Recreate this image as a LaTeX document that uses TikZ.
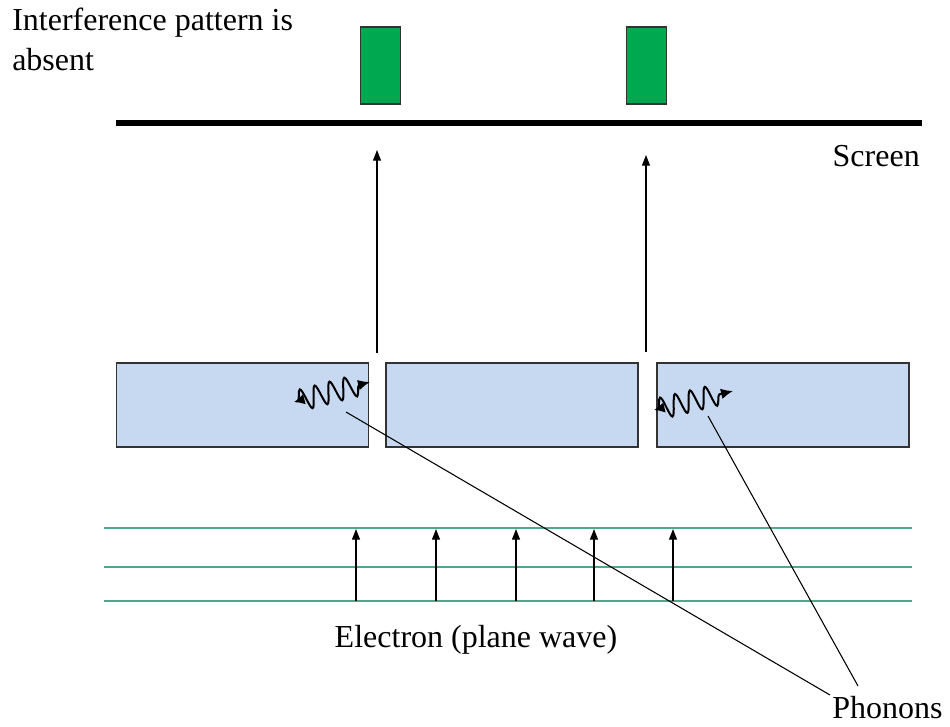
\documentclass[tikz,border=0pt]{standalone}
\usepackage{fontspec}
\setmainfont{Liberation Serif}
\usetikzlibrary{arrows.meta,decorations.pathmorphing}
\definecolor{slitblue}{RGB}{198,217,240}
\definecolor{spotgreen}{RGB}{0,168,80}
\definecolor{waveline}{RGB}{80,168,140}
\tikzset{
  px/.style={x=0.75pt,y=-0.75pt},
  lbl/.style={font=\fontsize{24}{30}\selectfont, inner sep=0pt},
  slitbox/.style={draw=black!80, line width=0.9pt, fill=slitblue, minimum width=189pt, minimum height=63pt, inner sep=0pt},
  spot/.style={draw=black!80, line width=0.9pt, fill=spotgreen, minimum width=30pt, minimum height=57.75pt, inner sep=0pt},
  ray/.style={line width=0.9pt, -{Triangle[length=8pt,width=6pt]}},
  front/.style={draw=waveline, line width=1.2pt},
  phonon/.style={line width=1.5pt, {Latex[length=8pt,width=8pt]}-{Latex[length=9pt,width=8pt]},
    decorate, decoration={snake, segment length=11.5pt, amplitude=8pt, pre length=3pt, post length=5pt}},
  pointer/.style={line width=0.8pt}
}
\begin{document}
\begin{tikzpicture}[px]
\useasboundingbox (0,0) rectangle (950,726);
% top text
\node[lbl, anchor=base west, align=left] (title) at (12,70) {Interference pattern is\\absent};
% green spots
\node[spot] (s1) at (380.5,65.5) {};
\node[spot] (s2) at (646.5,65.5) {};
% screen
\coordinate (scrL) at (116,123);
\coordinate (scrR) at (922,123);
\draw[line width=3.8pt] (scrL) -- (scrR);
\node[lbl, anchor=base east] (screen) at (920,166) {Screen};
% slit boxes
\node[slitbox] (b1) at (242.5,405) {};
\node[slitbox] (b2) at (512,405) {};
\node[slitbox] (b3) at (783,405) {};
% rays through slits
\coordinate (r1s) at (377,353);
\coordinate (r1e) at (377,150);
\coordinate (r2s) at (646,352);
\coordinate (r2e) at (646,155);
\draw[ray] (r1s) -- (r1e);
\draw[ray] (r2s) -- (r2e);
% phonon waves
\coordinate (p1a) at (294,402);
\coordinate (p1b) at (370,382);
\coordinate (p2a) at (654,410);
\coordinate (p2b) at (733,391);
\draw[phonon] (p1a) -- (p1b);
\draw[phonon] (p2a) -- (p2b);
% plane wave fronts
\coordinate (f1L) at (104,528); \coordinate (f1R) at (912,528);
\coordinate (f2L) at (104,567); \coordinate (f2R) at (912,567);
\coordinate (f3L) at (104,601); \coordinate (f3R) at (912,601);
\draw[front] (f1L) -- (f1R);
\draw[front] (f2L) -- (f2R);
\draw[front] (f3L) -- (f3R);
% electron arrows
\foreach \x [count=\i] in {356,436,516,594,673}{
  \coordinate (e\i s) at (\x,601);
  \coordinate (e\i e) at (\x,529);
  \draw[ray] (e\i s) -- (e\i e);
}
\node[lbl, anchor=base] (electron) at (476,647) {Electron (plane wave)};
% phonons label
\node[lbl, anchor=base west] (phon) at (832,718) {Phonons};
\coordinate (l1s) at (346,412);
\coordinate (l1e) at (830,695);
\coordinate (l2s) at (708,416);
\coordinate (l2e) at (858,686);
\draw[pointer] (l1s) -- (l1e);
\draw[pointer] (l2s) -- (l2e);
\end{tikzpicture}
\end{document}
